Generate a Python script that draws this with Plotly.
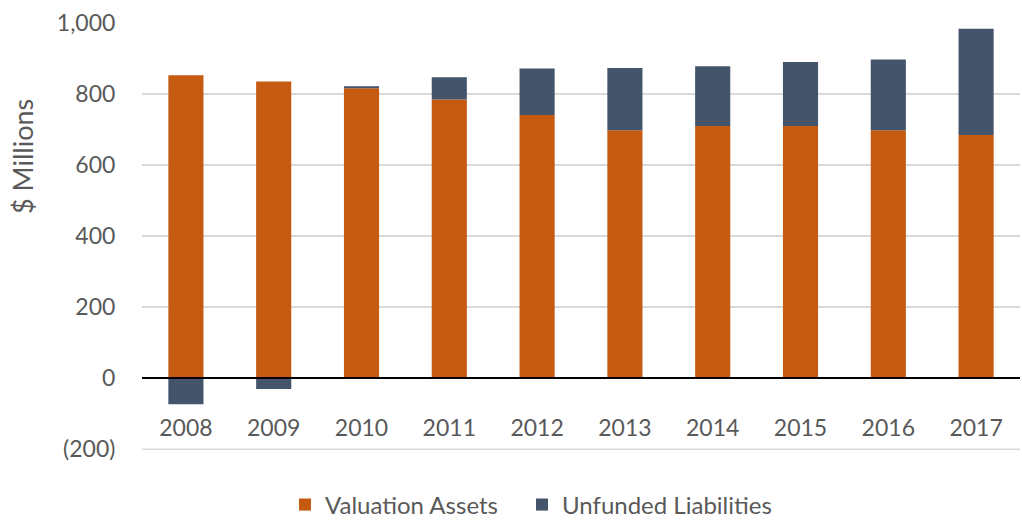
import plotly.graph_objects as go

years = ["2008", "2009", "2010", "2011", "2012", "2013", "2014", "2015", "2016", "2017"]
valuation_assets = [853, 835, 816, 785, 741, 698, 710, 710, 698, 685]
unfunded_liabilities = [-73, -30, 6, 62, 131, 175, 168, 180, 199, 299]

y_tickvals = [-200, 0, 200, 400, 600, 800, 1000]
y_ticktext = ["(200)", "0", "200", "400", "600", "800", "1,000"]
y_min = -200

FONT = "Lato"
TXT = "#595959"
GRID = "#D9D9D9"

L, R, T, B = 142, 2, 23, 75
W, H = 1022, 525
plot_w = W - L - R
plot_h = H - T - B

def px_x(x):
    return (x - L) / plot_w

def px_y(y):
    return (H - B - y) / plot_h

fig = go.Figure()
fig.add_trace(go.Bar(x=years, y=valuation_assets, name="Valuation Assets",
                     marker=dict(color="#C55A11", line=dict(width=0)), legend="legend"))
fig.add_trace(go.Bar(x=years, y=unfunded_liabilities, name="Unfunded Liabilities",
                     marker=dict(color="#44546A", line=dict(width=0)), legend="legend2"))

legend_common = dict(orientation="h", xanchor="left", y=px_y(505), yanchor="middle",
                     font=dict(size=24, color=TXT), itemwidth=30, bgcolor="rgba(0,0,0,0)")

fig.update_layout(
    barmode="relative",
    bargap=0.6,
    width=W, height=H,
    margin=dict(l=L, r=R, t=T, b=B, autoexpand=False),
    plot_bgcolor="white", paper_bgcolor="white",
    font=dict(family=FONT, size=23, color=TXT),
    showlegend=True,
    legend=dict(x=px_x(285), **legend_common),
    legend2=dict(x=px_x(522), **legend_common),
    xaxis=dict(anchor="free", position=202/1202, showline=True, linecolor="black",
               linewidth=1.5, layer="above traces", showgrid=False, ticks="outside",
               ticklen=29, tickcolor="rgba(0,0,0,0)", automargin=False,
               tickfont=dict(size=23, color=TXT)),
    yaxis=dict(range=[-202, 1000], tickvals=y_tickvals, ticktext=y_ticktext,
               showgrid=True, gridcolor=GRID, gridwidth=1.5, zeroline=False,
               showline=False, ticks="outside", ticklen=21, tickcolor="rgba(0,0,0,0)",
               automargin=False, tickfont=dict(size=23, color=TXT)),
    shapes=[dict(type="line", xref="paper", x0=0, x1=1, yref="y", y0=y_min, y1=y_min,
                 line=dict(color=GRID, width=1.5), layer="below")],
    annotations=[dict(text="$ Millions", x=px_x(22), xref="paper", y=px_y(157), yref="paper",
                      xanchor="center", yanchor="middle",
                      showarrow=False, textangle=-90, font=dict(size=27, color=TXT))],
)

fig.write_html("out.html", config={"displayModeBar": False},
               post_script="document.body.style.margin='0';")
